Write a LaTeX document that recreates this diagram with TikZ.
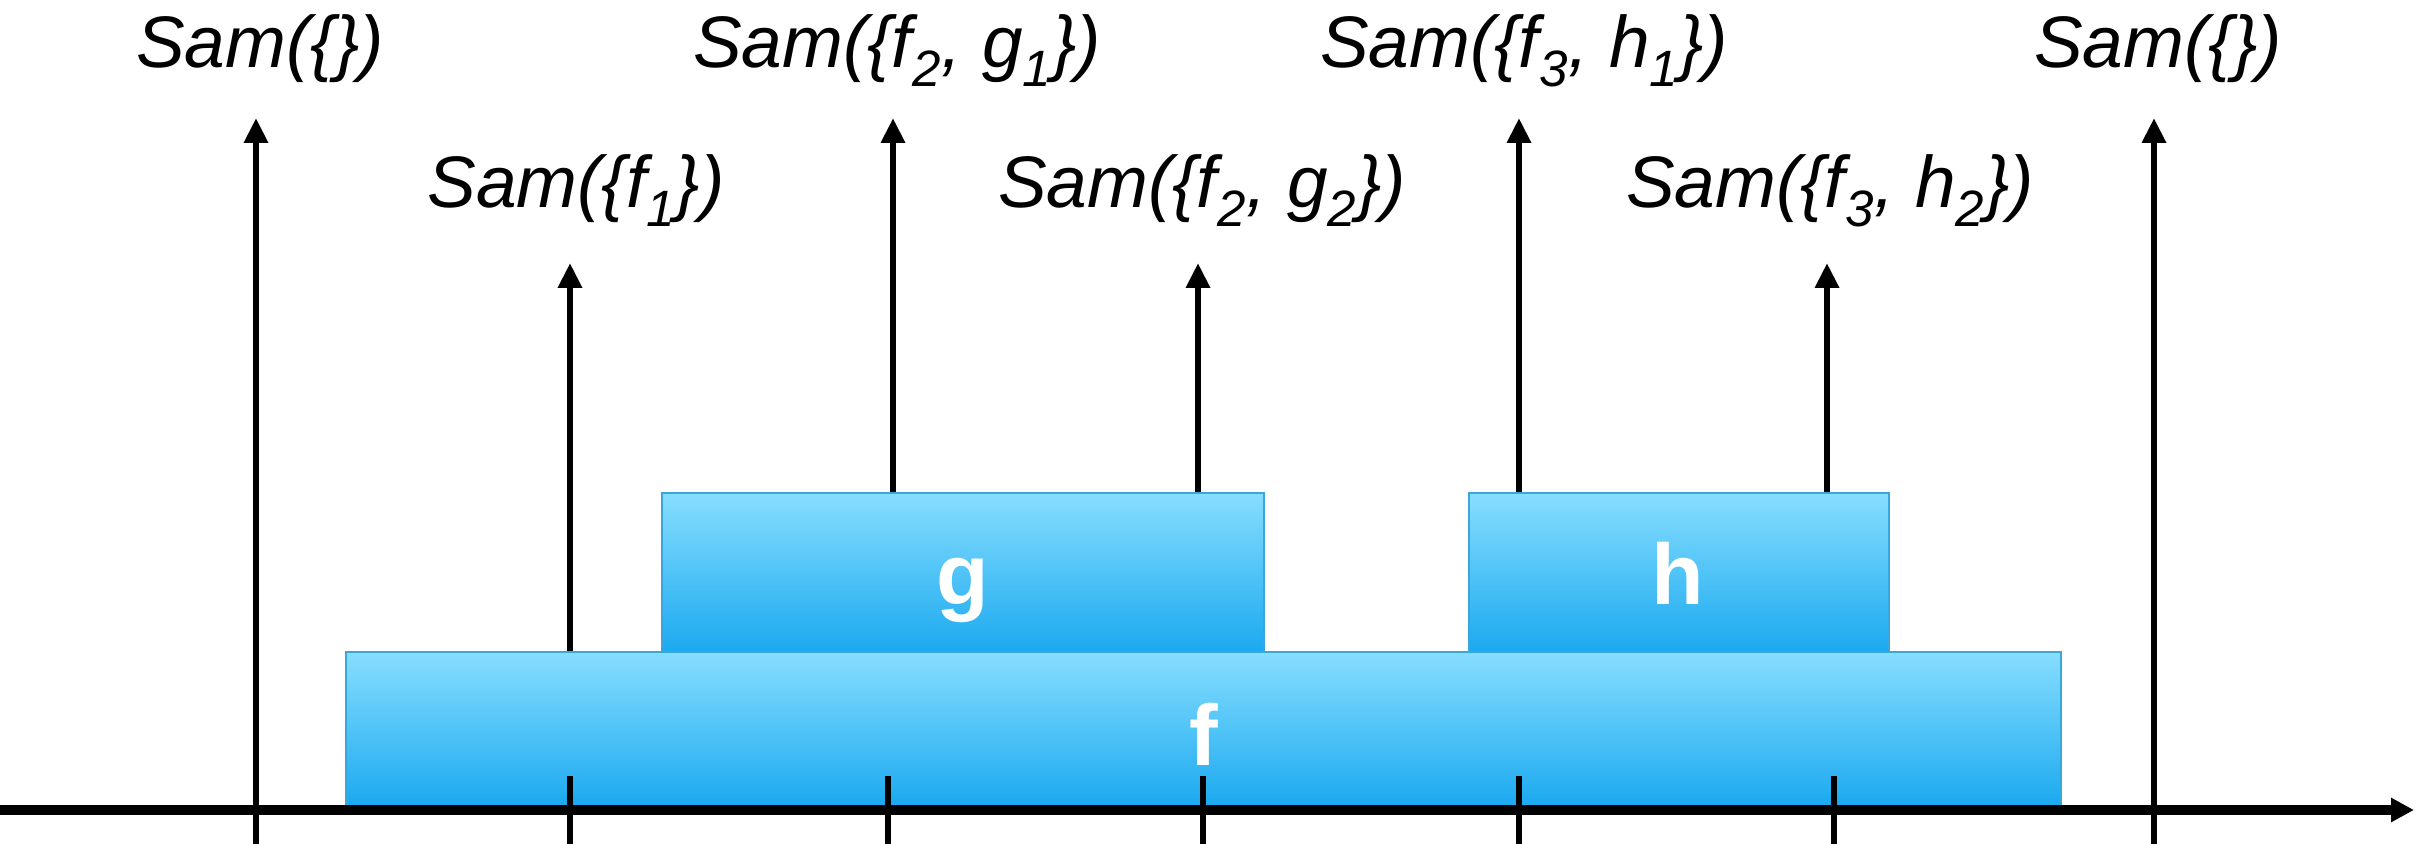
\documentclass[tikz,border=0pt]{standalone}
\usepackage{fontspec}
\setmainfont{Liberation Sans}
\usetikzlibrary{arrows.meta}
\definecolor{boxtop}{HTML}{87DEFE}
\definecolor{boxmid}{HTML}{68CCF8}
\definecolor{boxbot}{HTML}{1BA9F0}
\definecolor{boxline}{HTML}{3AA6DC}
\newcommand{\sbs}[1]{\textsubscript{#1}}
\begin{document}
\begin{tikzpicture}[x=0.5pt,y=-0.5pt,
  box/.style={draw=boxline,line width=1pt,top color=boxtop,middle color=boxmid,bottom color=boxbot,
    inner sep=0pt},
  boxlab/.style={anchor=base,text=white,font=\fontsize{43}{50}\bfseries\selectfont},
  lab/.style={anchor=base,inner sep=0pt,font=\fontsize{36.5}{43}\itshape\selectfont},
  arr/.style={line width=3.3pt,-{Triangle[length=12.5pt,width=11.5pt]}},
  axisline/.style={line width=5pt,-{Triangle[length=11.5pt,width=11.5pt]}},
  tickline/.style={line width=3.2pt}]
\useasboundingbox (0,0) rectangle (2433,844);
% boxes
\node[box,minimum width=857.5pt,minimum height=77pt] (f) at (1203.5,729) {};
\node[box,minimum width=301pt,minimum height=79.5pt] (g) at (963,572.5) {};
\node[box,minimum width=210pt,minimum height=79.5pt] (h) at (1679,572.5) {};
\node[boxlab] (fl) at (f.center |- 0,765) {f};
\node[boxlab] (gl) at (963,605) {g};
\node[boxlab] (hl) at (1678,605) {h};
% axis
\coordinate (ax0) at (0,810);
\coordinate (ax1) at (2414,810);
\draw[axisline] (ax0) -- (ax1);
% ticks
\foreach \x/\n in {256/0,570/1,888/2,1203/3,1519/4,1834/5,2154/6}{
  \coordinate (tb\n) at (\x,844);
  \coordinate (tt\n) at (\x,776);
  \draw[tickline] (tb\n) -- (tt\n);
}
% arrow tips
\coordinate (a0) at (256,118);
\coordinate (a1) at (570,263);
\coordinate (a2) at (893,118);
\coordinate (a3) at (1198,263);
\coordinate (a4) at (1519,118);
\coordinate (a5) at (1827,263);
\coordinate (a6) at (2154,118);
\draw[arr] (tt0) -- (a0);
\draw[arr] (f.north -| a1) -- (a1);
\draw[arr] (g.north -| a2) -- (a2);
\draw[arr] (g.north -| a3) -- (a3);
\draw[arr] (h.north -| a4) -- (a4);
\draw[arr] (h.north -| a5) -- (a5);
\draw[arr] (tt6) -- (a6);
% labels
\node[lab] (l0) at (260,68) {Sam(\{\})};
\node[lab] (l1) at (576,208) {Sam(\{f\sbs{1}\})};
\node[lab] (l2) at (897,68) {Sam(\{f\sbs{2}, g\sbs{1}\})};
\node[lab] (l3) at (1202,208) {Sam(\{f\sbs{2}, g\sbs{2}\})};
\node[lab] (l4) at (1524,68) {Sam(\{f\sbs{3}, h\sbs{1}\})};
\node[lab] (l5) at (1830,208) {Sam(\{f\sbs{3}, h\sbs{2}\})};
\node[lab] (l6) at (2158,68) {Sam(\{\})};
\end{tikzpicture}
\end{document}
